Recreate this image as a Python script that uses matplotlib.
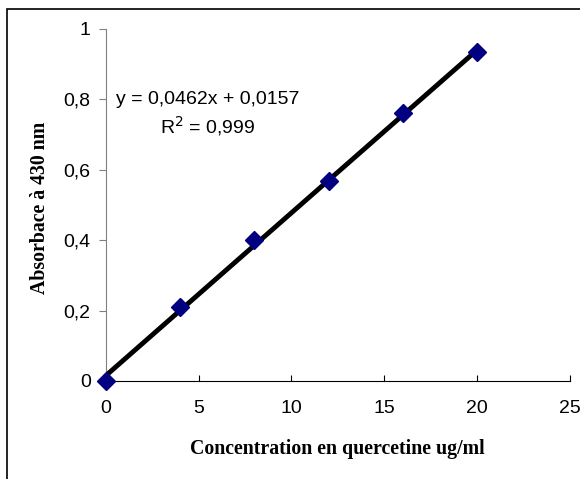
import matplotlib.pyplot as plt
from matplotlib.patches import Rectangle
import numpy as np

# concentration (ug/ml) and absorbance
conc = [0, 4, 8, 12, 16, 20]
absorb = [0.0, 0.211, 0.40, 0.567, 0.76, 0.934]

slope = 0.0462
intercept = 0.0157
eq_text = "y = 0,0462x + 0,0157\nR$^2$ = 0,999"

x_ticks = [0, 5, 10, 15, 20, 25]
y_ticks = [0, 0.2, 0.4, 0.6, 0.8, 1]
y_labels = ["0", "0,2", "0,4", "0,6", "0,8", "1"]

plt.rcParams['font.family'] = ['Liberation Sans', 'DejaVu Sans']

fig = plt.figure(figsize=(5.8, 4.79), dpi=100)
ax = fig.add_axes([0.1828, 0.2046, 0.982 - 0.1828, 0.9395 - 0.2046])

# outer chart frame (cut off at right and bottom like the original)
fig.patches.append(Rectangle((7 / 580, -0.1), 1.2, 1 - 9 / 479 + 0.1,
                             transform=fig.transFigure, fill=False,
                             edgecolor='black', linewidth=1.2))

xs = np.array([conc[0], conc[-1]])
ax.plot(xs, slope * xs + intercept, color='black', linewidth=3.5,
        solid_capstyle='butt', zorder=2)
ax.plot(conc, absorb, linestyle='none', marker='D', markersize=9,
        color='#000080', zorder=3, clip_on=False)

ax.set_xlim(0, 25)
ax.set_ylim(0, 1)
ax.set_xticks(x_ticks)
ax.set_yticks(y_ticks)
ax.set_yticklabels(y_labels)
ax.tick_params(axis='x', direction='in', length=4, labelsize=14, pad=14)
ax.tick_params(axis='y', direction='out', length=5, labelsize=14, pad=6,
               color='#808080')
ax.spines['top'].set_visible(False)
ax.spines['right'].set_visible(False)
ax.spines['left'].set_color('#808080')
ax.spines['bottom'].set_color('black')
ax.spines['left'].set_zorder(1)

ax.text(5.5, 0.757, eq_text, ha='center', va='center', fontsize=14,
        linespacing=1.3)

fig.text(337 / 580, 1 - 449 / 479, "Concentration en quercetine ug/ml",
         ha='center', va='center', fontsize=14.3, fontweight='bold',
         family='Liberation Serif')
fig.text(40 / 580, 1 - 208 / 479, "Absorbace à 430 nm", rotation=90,
         ha='center', va='center', fontsize=14.3, fontweight='bold',
         family='Liberation Serif')

fig.savefig('out.png', dpi=100)
